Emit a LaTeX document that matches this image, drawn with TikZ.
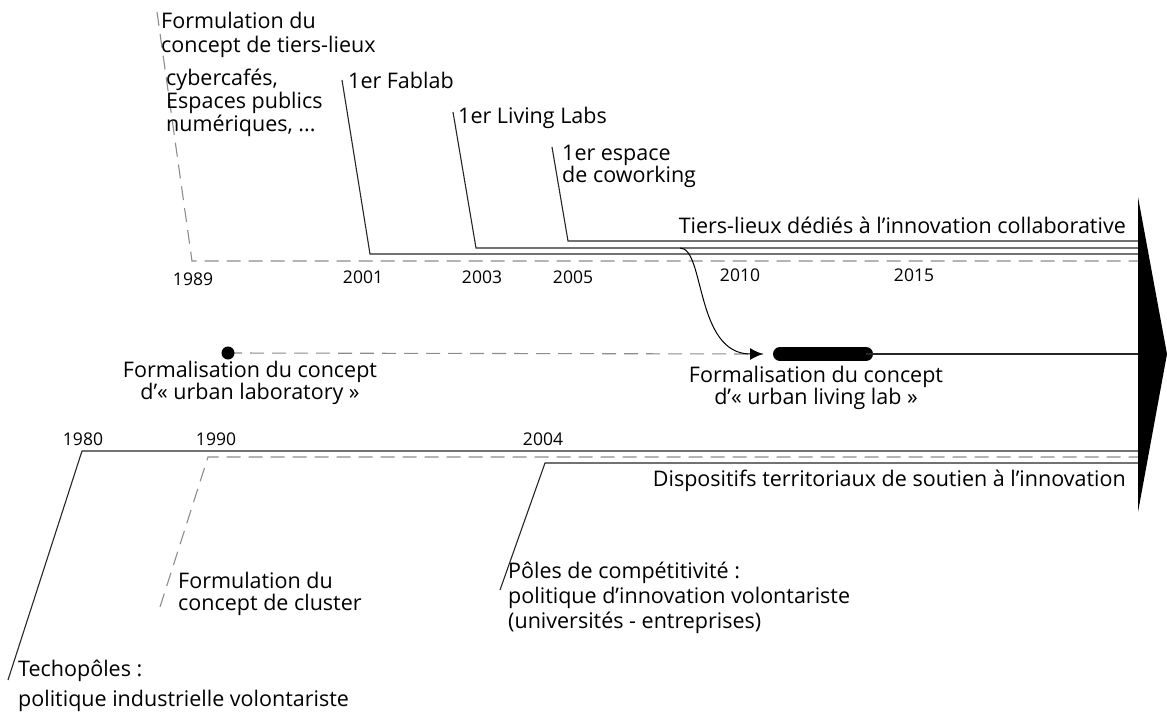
\documentclass[tikz,border=0pt]{standalone}
\usepackage{fontspec}
\setmainfont{Open Sans}
\usetikzlibrary{arrows.meta}

\begin{document}
\begin{tikzpicture}[line cap=butt,line join=miter,x=1pt,y=-1pt,
        txt/.style={anchor=base west,inner sep=0pt,align=left,font=\fontsize{21.5}{22}\selectfont},
        yr/.style={anchor=base,inner sep=0pt,font=\fontsize{17.5}{20}\selectfont},
        plain/.style={line width=1.1pt,color=black!85},
        dashy/.style={line width=1.1pt,color=black!45,dash pattern=on 14pt off 8pt}]
    \useasboundingbox (0,0) rectangle (1167,715);
    % corners of the timelines
    \coordinate (e) at (1138,0);
    \coordinate (tl1) at (157,12);   \coordinate (tl2) at (192,261);
    \coordinate (fab1) at (342,80);  \coordinate (fab2) at (370,254);
    \coordinate (liv1) at (453,112); \coordinate (liv2) at (476,248);
    \coordinate (cow1) at (552,147); \coordinate (cow2) at (568,241);
    \coordinate (tec1) at (8,680);   \coordinate (tec2) at (82,451);
    \coordinate (clu1) at (160,607); \coordinate (clu2) at (208,457);
    \coordinate (pol1) at (500,590); \coordinate (pol2) at (545,463);
    \coordinate (dot) at (228,353);
    \coordinate (tip) at (763,354);
    \coordinate (bar1) at (780,354); \coordinate (bar2) at (866,354);
    \draw [dashy] (tl1) -- (tl2) -- (tl2 -| e);
    \draw [plain] (fab1) -- (fab2) -- (fab2 -| e);
    \draw [plain] (liv1) -- (liv2) -- (liv2 -| e);
    \draw [plain] (cow1) -- (cow2) -- (cow2 -| e);
    \draw [dashy] (dot) -- (tip);
    \draw [line width=14pt,line cap=round] (bar1) -- (bar2);
    \draw [plain] (bar2) -- (bar2 -| e);
    \draw [line width=1pt,-{Latex[length=13pt,width=12pt]}] (680,248) .. controls (705,248) and (695,354) .. (tip);
    \fill (dot) circle (6.5pt);
    \draw [plain] (tec1) -- (tec2) -- (tec2 -| e);
    \draw [dashy] (clu1) -- (clu2) -- (clu2 -| e);
    \draw [plain] (pol1) -- (pol2) -- (pol2 -| e);
    \fill (1138,197) -- (1167,354) -- (1138,512) -- cycle;
    % labels (base = last line)
    \node [txt,font=\fontsize{21.5}{24}\selectfont] (tiers) at (161,52) {Formulation du\\ concept de tiers-lieux};
    \node [txt,font=\fontsize{21.5}{21}\selectfont] (cyber) at (166,131) {cybercafés,\\Espaces publics\\numériques, ...};
    \node [txt] (fablab) at (348,88) {1er Fablab};
    \node [txt] (living) at (458,123) {1er Living Labs};
    \node [txt] (cowork) at (562,182) {1er espace\\de coworking};
    \node [txt,anchor=base east] (tiersinno) at (1126,233) {Tiers-lieux dédiés à l’innovation collaborative};
    \node [yr] (y1989) at (193,285) {1989};
    \node [yr] (y2001) at (363,283) {2001};
    \node [yr] (y2003) at (482,283) {2003};
    \node [yr] (y2005) at (573,283) {2005};
    \node [yr] (y2010) at (740,281) {2010};
    \node [yr] (y2015) at (914,281) {2015};
    \node [txt,align=center,anchor=base] (urblab) at (250,399) {Formalisation du concept\\d’«~urban laboratory~»};
    \node [txt,align=center,anchor=base] (urbliv) at (816,404) {Formalisation du concept\\d’«~urban living lab~»};
    \node [yr] (y1980) at (83,445) {1980};
    \node [yr] (y1990) at (216,445) {1990};
    \node [yr] (y2004) at (543,445) {2004};
    \node [txt,anchor=base east] (dispo) at (1126,486) {Dispositifs territoriaux de soutien à l’innovation};
    \node [txt] (cluster) at (178,610) {Formulation du\\concept de cluster};
    \node [txt,font=\fontsize{21.5}{25}\selectfont] (poles) at (508,628) {Pôles de compétitivité :\\politique d’innovation volontariste\\(universités - entreprises)};
    \node [txt,font=\fontsize{21.5}{30}\selectfont] (techno) at (18,706) {Techopôles :\\politique industrielle volontariste};
\end{tikzpicture}
\end{document}
